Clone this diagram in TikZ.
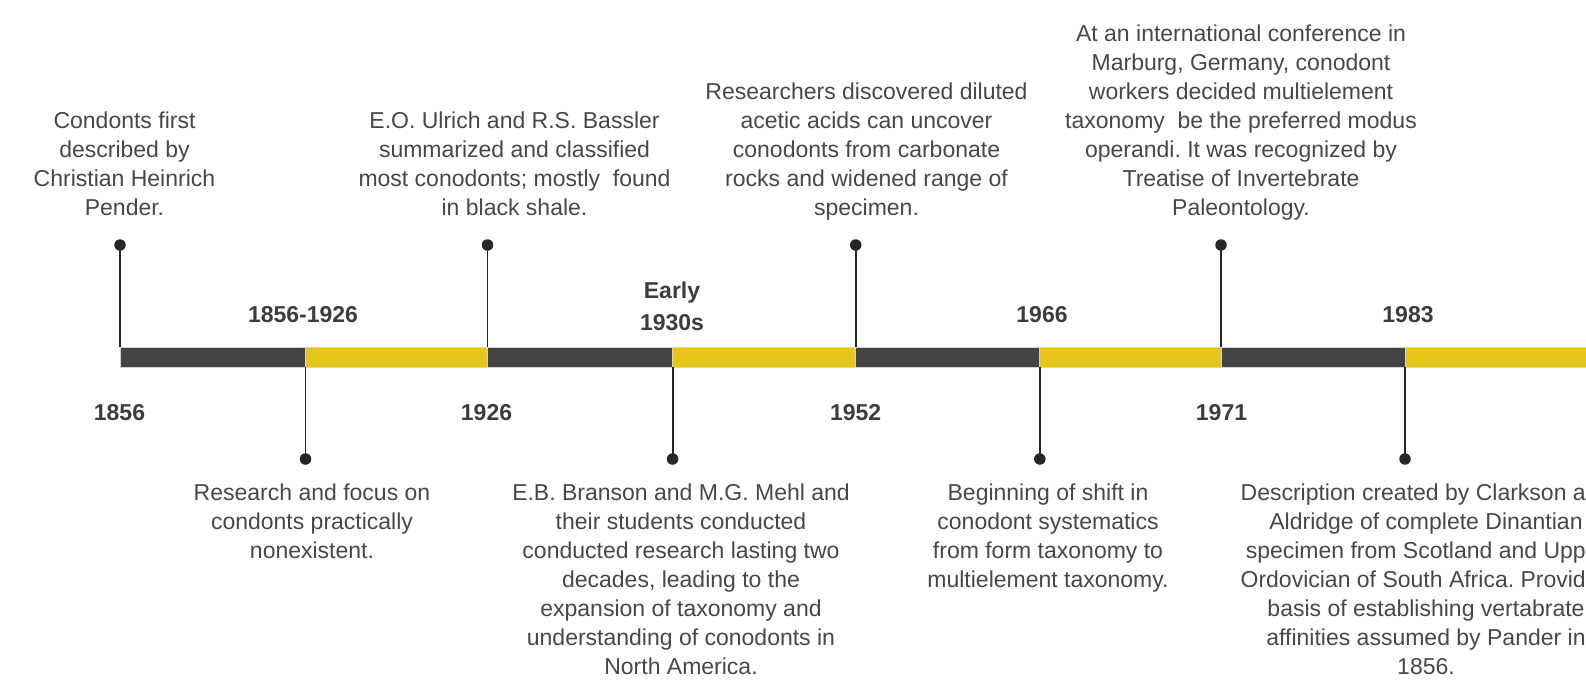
\documentclass[tikz,border=0pt]{standalone}
\usepackage{fontspec}
\setmainfont{Liberation Sans}
\frenchspacing
\definecolor{ink}{HTML}{474747}
\definecolor{labelink}{HTML}{3C3C3C}
\definecolor{bardark}{HTML}{444444}
\definecolor{baryellow}{HTML}{E8C41F}
\definecolor{barrim}{HTML}{D2D2D2}
\definecolor{stemink}{HTML}{262626}
\tikzset{
  note/.style={font=\fontsize{23}{29}\selectfont\frenchspacing, text=ink, align=center, inner sep=0pt},
  yearlabel/.style={font=\fontsize{23}{32.4}\selectfont\bfseries, text=labelink, align=center, inner sep=0pt},
  segdark/.style={fill=bardark, draw=barrim, line width=0.8pt},
  segyellow/.style={fill=baryellow, draw=barrim, line width=0.8pt},
  stemline/.style={draw=stemink, line width=1.8pt},
  pin/.style={circle, fill=stemink, inner sep=0pt, minimum size=11.5pt},
}
\begin{document}
\begin{tikzpicture}[x=1pt, y=-1pt]
\useasboundingbox (0,0) rectangle (1586,687);
\clip (0,0) rectangle (1586,687);

% tick positions along the bar (top and bottom edges)
\foreach \i/\x in {0/120, 1/305.5, 2/487.5, 3/672.6, 4/855.7, 5/1039.8, 6/1221, 7/1405, 8/1620} {
  \coordinate (t\i) at (\x,347);
  \coordinate (b\i) at (\x,367);
}

% alternating bar segments
\path[segdark]   (t0) rectangle (b1);
\path[segyellow] (t1) rectangle (b2);
\path[segdark]   (t2) rectangle (b3);
\path[segyellow] (t3) rectangle (b4);
\path[segdark]   (t4) rectangle (b5);
\path[segyellow] (t5) rectangle (b6);
\path[segdark]   (t6) rectangle (b7);
\path[segyellow] (t7) rectangle (b8);

% pins above the bar
\node[pin] (p0) at (120,245) {};
\node[pin] (p2) at (487.5,245) {};
\node[pin] (p4) at (855.7,245) {};
\node[pin] (p6) at (1221,245) {};
% pins below the bar
\node[pin] (p1) at (305.5,459) {};
\node[pin] (p3) at (672.6,459) {};
\node[pin] (p5) at (1039.8,459) {};
\node[pin] (p7) at (1405,459) {};

\draw[stemline] (p0.center) -- (t0);
\draw[stemline] (p2.center) -- (t2);
\draw[stemline] (p4.center) -- (t4);
\draw[stemline] (p6.center) -- (t6);
\draw[stemline] (b1) -- (p1.center);
\draw[stemline] (b3) -- (p3.center);
\draw[stemline] (b5) -- (p5.center);
\draw[stemline] (b7) -- (p7.center);

% year labels above the bar
\node[yearlabel, anchor=base] (y1) at (303,322.7) {1856-1926};
\node[yearlabel, anchor=south] (y3) at (672,340.4) {Early\\1930s\strut};
\node[yearlabel, anchor=base] (y5) at (1042,322.7) {1966};
\node[yearlabel, anchor=base] (y7) at (1408,322.7) {1983};
% year labels below the bar
\node[yearlabel, anchor=base] (y0) at (119.5,420.5) {1856};
\node[yearlabel, anchor=base] (y2) at (486.5,420.5) {1926};
\node[yearlabel, anchor=base] (y4) at (855.7,420.5) {1952};
\node[yearlabel, anchor=base] (y6) at (1221.5,420.5) {1971};

% descriptions above the bar
\node[note, anchor=south] (n0) at (124.5,224.7)
  {Condonts first\\described by\\Christian Heinrich\\Pender.\strut};
\node[note, anchor=south] (n2) at (514.5,224.7)
  {E.O. Ulrich and R.S. Bassler\\summarized and classified\\most conodonts; mostly\ \ found\\in black shale.\strut};
\node[note, anchor=south] (n4) at (866.5,224.7)
  {Researchers discovered diluted\\acetic acids can uncover\\conodonts from carbonate\\rocks and widened range of\\specimen.\strut};
\node[note, anchor=south] (n6) at (1241,224.7)
  {At an international conference in\\Marburg, Germany, conodont\\workers decided multielement\\taxonomy\ \ be the preferred modus\\operandi. It was recognized by\\Treatise of Invertebrate\\Paleontology.\strut};

% descriptions below the bar
\node[note, anchor=north] (n1) at (312,479.7)
  {\strut Research and focus on\\condonts practically\\nonexistent.};
\node[note, anchor=north] (n3) at (681,479.7)
  {\strut E.B. Branson and M.G. Mehl and\\their students conducted\\conducted research lasting two\\decades, leading to the\\expansion of taxonomy and\\understanding of conodonts in\\North America.};
\node[note, anchor=north] (n5) at (1048,479.7)
  {\strut Beginning of shift in\\conodont systematics\\from form taxonomy to\\multielement taxonomy.};
\node[note, anchor=north] (n7) at (1426,479.7)
  {\strut Description created by Clarkson and\\Aldridge of complete Dinantian\\specimen from Scotland and Upper\\Ordovician of South Africa. Provided\\basis of establishing vertabrate\\affinities assumed by Pander in\\1856.};
\end{tikzpicture}
\end{document}
